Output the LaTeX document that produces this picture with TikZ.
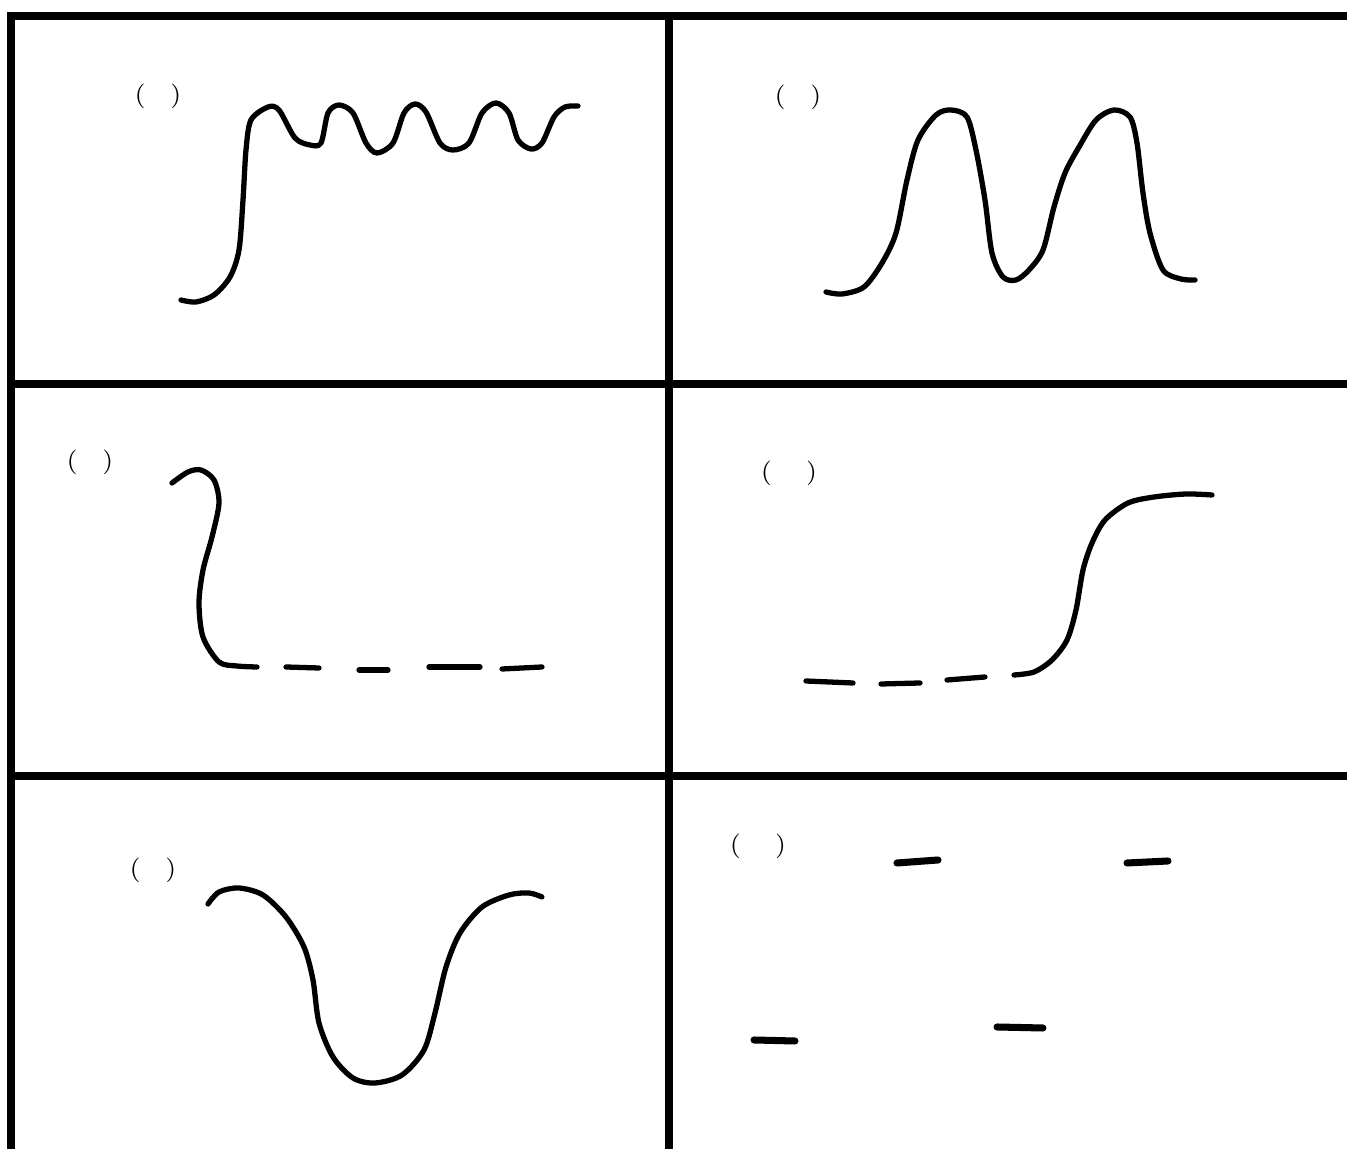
\documentclass[tikz,border=0pt]{standalone}
\usepackage{tikz}

\tikzset{
  frame/.style={line width=2pt, line cap=rect},
  curve/.style={line width=1.5pt, line cap=round, line join=round},
  dashseg/.style={line width=1.5pt, line cap=round},
  paren/.style={font=\scriptsize, inner sep=0pt},
}

\begin{document}
\begin{tikzpicture}[x=0.01cm, y=-0.01cm]
  \useasboundingbox (0,0) rectangle (1347,1149);

  % grid
  \draw[frame] (11,16) -- (1347,16);
  \draw[frame] (11,16) -- (11,1149);
  \draw[frame] (669,16) -- (669,1149);
  \draw[frame] (11,384) -- (1347,384);
  \draw[frame] (11,776) -- (1347,776);

  % labels
  \node[paren] (lblA) at (158,96) {(\quad)};
  \node[paren] (lblB) at (798,97) {(\quad)};
  \node[paren] (lblC) at (90,462) {(\quad)};
  \node[paren] (lblD) at (789,473) {(\quad\ )};
  \node[paren] (lblE) at (153,870) {(\quad)};
  \node[paren] (lblF) at (758,846) {(\quad\ )};

  % panel A
  \draw[curve] plot[smooth] coordinates {
    (181,300) (196,302) (214,295) (230,277) (239,250) (243,200) (246,150)
    (251,120) (268,107) (279,110) (295,138) (310,145) (321,143) (328,113)
    (339,105) (353,113) (366,143) (377,153) (393,143) (404,113) (415,104)
    (426,112) (440,143) (453,150) (469,143) (482,113) (496,103) (509,113)
    (518,140) (531,149) (542,143) (554,117) (565,107) (578,106)};

  % panel B
  \draw[curve] plot[smooth] coordinates {
    (826,292) (842,294) (864,287) (882,263) (896,233) (907,180) (918,140)
    (936,115) (951,110) (967,117) (976,150) (985,200) (992,253) (1003,277)
    (1016,280) (1029,270) (1043,250) (1054,207) (1065,173) (1079,147)
    (1096,120) (1114,110) (1130,117) (1137,143) (1143,193) (1150,233)
    (1163,270) (1181,279) (1195,280)};

  % panel C
  \draw[curve] plot[smooth] coordinates {
    (172,483) (188,472) (201,470) (214,480) (219,503) (212,537) (203,570)
    (199,603) (203,637) (219,662) (237,666) (257,667)};
  \draw[dashseg] (286,667) -- (319,668);
  \draw[dashseg] (359,670) -- (388,670);
  \draw[dashseg] (429,667) -- (480,667);
  \draw[dashseg] (502,669) -- (542,667);

  % panel D
  \draw[dashseg] (806,681) -- (853,683);
  \draw[dashseg] (881,684) -- (920,683);
  \draw[dashseg] (947,680) -- (985,677);
  \draw[curve] plot[smooth] coordinates {
    (1014,675) (1034,672) (1052,660) (1067,640) (1076,610) (1083,570)
    (1092,543) (1105,520) (1128,503) (1154,497) (1186,494) (1212,495)};

  % panel E
  \draw[curve] plot[smooth] coordinates {
    (208,904) (219,892) (239,888) (263,895) (286,917) (304,947) (313,980)
    (319,1023) (333,1057) (353,1078) (375,1083) (402,1075) (424,1050)
    (435,1013) (446,967) (460,933) (482,907) (509,895) (529,893) (542,897)};

  % panel F
  \draw[dashseg, line width=2pt] (897,863) -- (938,860);
  \draw[dashseg, line width=2pt] (1127,863) -- (1168,861);
  \draw[dashseg, line width=2pt] (754,1040) -- (795,1041);
  \draw[dashseg, line width=2pt] (997,1027) -- (1043,1028);
\end{tikzpicture}
\end{document}
